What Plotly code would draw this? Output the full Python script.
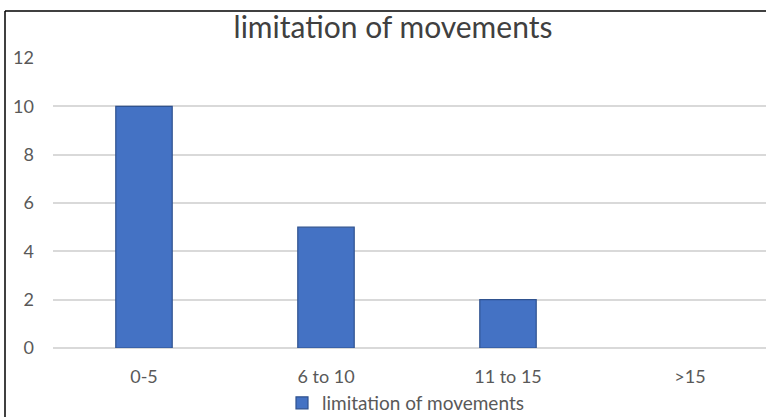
import plotly.graph_objects as go

categories = ["0-5", "6 to 10", "11 to 15", ">15"]
values = [10, 5, 2, 0]
series_name = "limitation of movements"
title_text = "limitation of movements"

W, H = 766, 417
L, R, T, B = 53, 0, 58, 69
pw = W - L - R
ph = H - T - B

def px_x(p):
    return (p - L) / pw

def px_y(p):
    return (H - B - p) / ph

outline_widths = [1.2 if v > 0 else 0 for v in values]

fig = go.Figure()
fig.add_trace(go.Bar(
    x=categories, y=values, name=series_name,
    marker=dict(color="#4472C4", line=dict(color="#2F528F", width=outline_widths)),
    width=0.31, showlegend=True,
))

fig.update_layout(
    width=W, height=H,
    margin=dict(l=L, r=R, t=T, b=B, pad=0, autoexpand=False),
    paper_bgcolor="white", plot_bgcolor="white",
    font=dict(family="Lato, Open Sans, sans-serif", color="#595959", size=18),
    title=dict(text=title_text, x=px_x(393), xanchor="center", xref="paper",
               y=1 - 27 / H, yanchor="middle",
               font=dict(size=30, color="#404040", family="Lato, sans-serif")),
    xaxis=dict(range=[-0.5, 3.5 - 15 / 182], showgrid=False, zeroline=False,
               showline=False, ticks="", tickfont=dict(size=18, color="#595959"),
               ticklabelstandoff=16),
    yaxis=dict(range=[0, 12], dtick=2, showgrid=True, gridcolor="#d9d9d9",
               gridwidth=1.6, zeroline=True, zerolinecolor="#d9d9d9",
               zerolinewidth=1.6, showline=False, ticks="",
               tickfont=dict(size=18, color="#595959"), ticklabelstandoff=18),
    legend=dict(orientation="h", x=px_x(282), xanchor="left",
                y=px_y(403), yanchor="middle", font=dict(size=19, color="#595959"),
                itemwidth=30, bgcolor="rgba(0,0,0,0)"),
    shapes=[
        dict(type="line", xref="paper", yref="paper", x0=px_x(5), x1=px_x(5),
             y0=px_y(11), y1=px_y(H + 5), line=dict(color="#000000", width=1.5)),
        dict(type="line", xref="paper", yref="paper", x0=px_x(5), x1=px_x(W + 5),
             y0=px_y(11), y1=px_y(11), line=dict(color="#000000", width=1.5)),
    ],
)

fig.write_html("out.html", config={"displayModeBar": False},
               post_script="document.body.style.margin='0';")
